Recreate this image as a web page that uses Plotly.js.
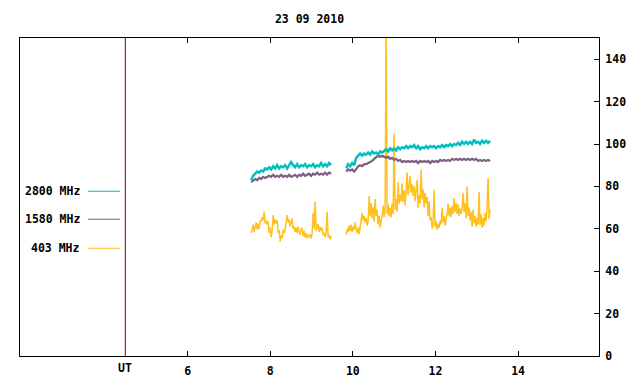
<!DOCTYPE html>
<html>
<head>
<meta charset="utf-8">
<script src="https://cdn.plot.ly/plotly-3.0.1.min.js"></script>
<style>html,body{margin:0;padding:0;background:#fff;}#chart{width:640px;height:384px;}</style>
</head>
<body>
<div id="chart"></div>
<script>
// Sampling of the two observing segments (hours UT)
const seg1Start = 7.5375, seg2Start = 9.838;
const coarseStep = 0.0484, fineStep = 0.0242;

const teal1 = [83, 85, 86, 87, 86.5, 87.5, 87, 88.5, 88, 89,
  88, 89.5, 88.5, 90, 88.5, 89.5, 89, 90, 88.5, 90,
  91.5, 90, 89, 90.5, 89, 90, 89.5, 90.5, 89, 90,
  89.5, 90.5, 89, 90, 89.5, 91, 89.5, 90.5, 89.5, 91,
  90];
const teal2 = [88.5, 90.5, 89.5, 91, 90, 93.5, 94.5, 95.5, 94.5, 95.5,
  95, 96, 95, 96.5, 95.5, 96, 95, 96.5, 96, 97,
  97.5, 96.5, 98, 97, 98, 97, 98.5, 97.5, 98.5, 98,
  99, 98, 99, 98.5, 99.5, 98, 99, 97.5, 98.5, 98,
  99, 98, 99, 98.5, 99, 98, 99, 98.5, 99.5, 98.5,
  99.5, 99, 100, 99, 100, 99.5, 100.5, 99.5, 101, 100,
  101, 100, 101, 100, 102, 100.5, 101, 100, 101.5, 100.5,
  101.5, 100.5, 101.5];

const purple1 = [82, 83, 83.5, 83, 84, 83.5, 84.5, 84, 84.5, 85,
  84.5, 85.5, 84.5, 85, 84.5, 85.5, 84.5, 85, 84.5, 85.5,
  84.5, 85, 85.5, 84.5, 85.5, 85, 86, 85, 85.5, 86,
  85, 86, 85.5, 86.5, 85.5, 86, 85.5, 86.5, 85.5, 86.5,
  86];
const purple2 = [87, 88, 87.5, 88, 87, 88.5, 89.5, 90, 89.5, 90.5,
  90.5, 91, 91.5, 92, 93, 94, 94.5, 94, 94.5, 94,
  93.5, 94, 93, 93.5, 92.5, 93, 92, 92.5, 91.5, 92,
  91.5, 92, 91.5, 92, 91.5, 92, 91, 92, 91.5, 92,
  91.5, 92, 91, 92, 91.5, 92, 91.5, 92.5, 92, 92.5,
  92, 92.5, 92, 93, 92.5, 93, 92.5, 93, 92.5, 93,
  92.5, 93, 92.5, 93, 92.5, 93, 92, 92.5, 92, 92.5,
  92, 92.5, 92];

const yellow1 = [58, 60, 62, 58.5, 61, 63, 59.5, 62.5, 60, 64,
  63.5, 65.5, 64, 68, 62.5, 64, 62, 63.5, 58, 60.5,
  56, 59, 66.5, 62, 64.5, 62.5, 64, 58, 59.5, 54,
  57, 55.5, 59.5, 58, 60, 62.5, 66.5, 63, 64.5, 61,
  63.5, 65, 60, 61, 58.5, 60.5, 58, 61, 59, 57,
  59.5, 60.5, 56.5, 59, 56, 58, 55.5, 57, 56, 57.5,
  55.5, 58, 67.5, 60, 73, 59, 61.5, 62, 58.5, 61,
  59, 60.5, 57, 58, 56, 58, 68, 56, 57, 55,
  56.5];
const yellow2 = [57, 60, 58.5, 61.5, 59, 62, 58.5, 61, 59.5, 63,
  60, 58, 60.5, 57.5, 61, 63.5, 67.5, 64, 66, 63,
  65, 61.5, 64, 75.5, 66, 72, 65, 70, 63.5, 74,
  66, 69, 62, 66, 60.5, 64, 66, 71, 65.5, 70,
  160, 67, 71.5, 66, 70, 65.5, 72, 67, 105, 69,
  74, 68, 82, 72, 76, 73, 81.5, 72.5, 78, 71,
  80, 86.5, 76, 82, 85, 77, 81, 75.5, 80, 73,
  78, 83, 70, 76, 72, 88, 74, 78.5, 70, 77,
  72, 75, 66, 73, 64, 65.5, 60, 63, 78.5, 61,
  63.5, 59.5, 62.5, 60.5, 64, 62, 70, 63, 66, 61.5,
  65, 67, 72, 66, 70, 65.5, 71, 67, 74.5, 68,
  72, 67, 71.5, 66, 69.5, 67, 70, 77, 68, 72,
  65, 80, 66, 70, 64, 68, 61, 69, 62.5, 66,
  61, 65, 62, 77.5, 62, 67, 60.5, 65, 61.5, 67.5,
  63.5, 70, 84, 64.5, 69];

const xTicks = [6, 8, 10, 12, 14];
const yTicks = [0, 20, 40, 60, 80, 100, 120, 140];
const utHour = 4.49;
const seriesNames = ['2800 MHz', '1580 MHz', '403 MHz'];
const seriesColors = ['#00c0c0', '#7d5f80', '#ffc020'];

function build(a, b, step) {
  const x = [], y = [];
  a.forEach((v, i) => { x.push(seg1Start + i * step); y.push(v); });
  x.push(null); y.push(null);
  b.forEach((v, i) => { x.push(seg2Start + i * step); y.push(v); });
  return {x, y};
}

const sets = [[teal1, teal2, coarseStep, 2.5], [purple1, purple2, coarseStep, 2.2], [yellow1, yellow2, fineStep, 1.5]];
const data = sets.map((s, k) => {
  const d = build(s[0], s[1], s[2]);
  return {x: d.x, y: d.y, type: 'scatter', mode: 'lines', name: seriesNames[k],
    line: {color: seriesColors[k], width: s[3]}, connectgaps: false, hoverinfo: 'skip'};
}).reverse();

const font = {family: 'DejaVu Sans Mono', size: 11.5, color: '#000', weight: 'bold'};
const legendY = [0.518, 0.430, 0.3387];

const shapes = [{type: 'line', xref: 'x', yref: 'paper', x0: utHour, x1: utHour, y0: 0, y1: 1,
  line: {color: '#800000', width: 1}}];
const annotations = [{text: 'UT', xref: 'x', yref: 'paper', x: utHour, y: 0, yshift: -12,
  showarrow: false, font: font, xanchor: 'center', yanchor: 'middle'}];
seriesNames.forEach((n, k) => {
  shapes.push({type: 'line', xref: 'paper', yref: 'paper', x0: 0.1174, x1: 0.1727,
    y0: legendY[k], y1: legendY[k], line: {color: seriesColors[k], width: 1}});
  annotations.push({text: n, xref: 'paper', yref: 'paper', x: 0.107, y: legendY[k],
    xanchor: 'right', yanchor: 'middle', showarrow: false, font: font});
});

const layout = {
  width: 640, height: 384,
  margin: {l: 20, r: 41, t: 38, b: 28, pad: 0},
  paper_bgcolor: '#fff', plot_bgcolor: '#fff',
  showlegend: false,
  font: font,
  title: {text: '23 09 2010', font: font, xref: 'paper', x: 0.5, xanchor: 'center',
    yref: 'container', y: 0.95, yanchor: 'middle'},
  xaxis: {range: [1.94, 15.96], tickvals: xTicks, ticktext: xTicks.map(String),
    ticks: 'inside', ticklen: 5, tickcolor: '#000', tickwidth: 1, ticklabelstandoff: 4,
    showline: true, linecolor: '#000', linewidth: 1, mirror: 'ticks',
    showgrid: false, zeroline: false, tickfont: font},
  yaxis: {range: [0, 150], side: 'right', tickvals: yTicks, ticktext: yTicks.map(String),
    ticks: 'inside', ticklen: 5, tickcolor: '#000', tickwidth: 1, ticklabelstandoff: 3,
    showline: true, linecolor: '#000', linewidth: 1, mirror: true,
    showgrid: false, zeroline: false, tickfont: font},
  shapes: shapes,
  annotations: annotations
};

Plotly.newPlot('chart', data, layout, {staticPlot: true, displayModeBar: false});
</script>
</body>
</html>
